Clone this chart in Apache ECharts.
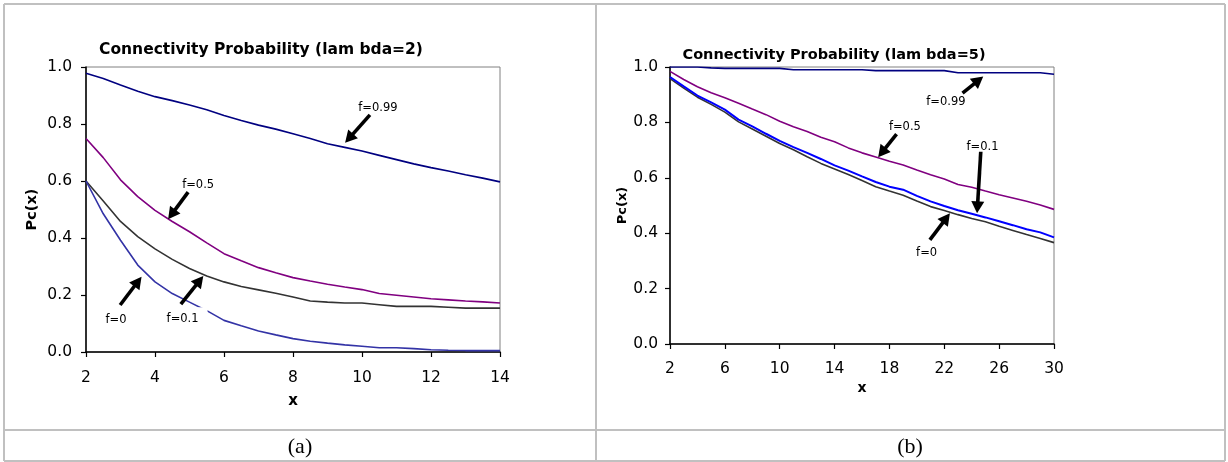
<!DOCTYPE html>
<html>
<head>
<meta charset="utf-8">
<script src="https://cdn.jsdelivr.net/npm/echarts@6/dist/echarts.min.js"></script>
<style>
html,body{margin:0;padding:0;background:#fff;}
#chart{width:1228px;height:462px;}
</style>
</head>
<body>
<div id="chart"></div>
<script>
// ---------- Panel (a): lambda = 2 ----------
const xA = [2,2.5,3,3.5,4,4.5,5,5.5,6,6.5,7,7.5,8,8.5,9,9.5,10,10.5,11,11.5,12,12.5,13,13.5,14];
const aF099 = [0.978,0.96,0.937,0.915,0.896,0.882,0.867,0.85,0.83,0.812,0.796,0.782,0.766,0.749,0.731,0.718,0.705,0.69,0.675,0.66,0.647,0.635,0.622,0.61,0.597];
const aF05  = [0.749,0.682,0.604,0.545,0.497,0.458,0.422,0.383,0.345,0.32,0.296,0.278,0.261,0.249,0.238,0.228,0.219,0.205,0.199,0.193,0.187,0.183,0.179,0.176,0.172];
const aF01  = [0.6,0.53,0.458,0.405,0.362,0.325,0.293,0.267,0.246,0.23,0.218,0.206,0.193,0.179,0.175,0.172,0.172,0.166,0.16,0.16,0.16,0.157,0.154,0.154,0.154];
const aF0   = [0.6,0.485,0.392,0.305,0.246,0.205,0.175,0.145,0.111,0.092,0.074,0.06,0.047,0.038,0.031,0.025,0.02,0.015,0.015,0.012,0.008,0.006,0.005,0.005,0.005];

// ---------- Panel (b): lambda = 5 ----------
const xB = [2,3,4,5,6,7,8,9,10,11,12,13,14,15,16,17,18,19,20,21,22,23,24,25,26,27,28,29,30];
const bF099 = [1.0,1.0,1.0,0.997,0.995,0.995,0.995,0.995,0.995,0.99,0.99,0.99,0.99,0.99,0.99,0.987,0.987,0.987,0.987,0.987,0.987,0.979,0.979,0.979,0.979,0.979,0.979,0.979,0.974];
const bF05  = [0.984,0.955,0.929,0.907,0.889,0.869,0.848,0.828,0.804,0.784,0.767,0.746,0.73,0.708,0.69,0.675,0.66,0.646,0.628,0.611,0.596,0.576,0.566,0.552,0.539,0.527,0.515,0.502,0.486];
const bF01  = [0.964,0.93,0.897,0.872,0.846,0.81,0.786,0.759,0.733,0.711,0.69,0.668,0.645,0.626,0.605,0.585,0.568,0.557,0.535,0.515,0.498,0.483,0.47,0.457,0.443,0.429,0.414,0.403,0.385];
const bF0   = [0.958,0.924,0.891,0.865,0.837,0.802,0.776,0.75,0.724,0.701,0.676,0.652,0.632,0.612,0.59,0.568,0.552,0.537,0.516,0.496,0.482,0.467,0.453,0.441,0.425,0.41,0.395,0.381,0.366];

// ---------- Tick labels ----------
const xTicksA = [2,4,6,8,10,12,14];
const xTicksB = [2,6,10,14,18,22,26,30];
const yTicks  = [0,0.2,0.4,0.6,0.8,1.0];

// ---------- Texts ----------
const titleA = 'Connectivity Probability (lam bda=2)';
const titleB = 'Connectivity Probability (lam bda=5)';
const captionA = '(a)';
const captionB = '(b)';

// ---------- Annotations (data units: label, tip, tail) ----------
const annotA = [
  {label:'f=0.99', at:[10.46,0.863], tail:[10.23,0.832], tip:[9.51,0.734]},
  {label:'f=0.5',  at:[5.25,0.593],  tail:[4.96,0.561],  tip:[4.38,0.466]},
  {label:'f=0',    at:[2.87,0.119],  tail:[2.99,0.165],  tip:[3.61,0.264]},
  {label:'f=0.1',  at:[4.8,0.124],   tail:[4.75,0.168],  tip:[5.4,0.267]}
];
const annotB = [
  {label:'f=0.99', at:[22.12,0.88],  tail:[23.33,0.906], tip:[24.84,0.966]},
  {label:'f=0.5',  at:[19.13,0.79],  tail:[18.52,0.758], tip:[17.18,0.674]},
  {label:'f=0.1',  at:[24.79,0.718], tail:[24.66,0.694], tip:[24.39,0.472]},
  {label:'f=0',    at:[20.71,0.334], tail:[20.95,0.376], tip:[22.41,0.472]}
];

const FONT = '"DejaVu Sans", "Liberation Sans", sans-serif';
const zip = (xs, ys) => xs.map((x, i) => [x, ys[i]]);

function xAxis(gridIndex, ticks, margin, nameGap, nameSize) {
  return {
    type: 'value', gridIndex, min: ticks[0], max: ticks[ticks.length - 1],
    name: 'x', nameLocation: 'middle', nameGap,
    nameTextStyle: {fontFamily: FONT, fontWeight: 'bold', fontSize: nameSize, color: '#000'},
    axisLine: {show: true, onZero: false, lineStyle: {color: '#000', width: 1.5}},
    axisTick: {show: true, inside: false, length: 5, customValues: ticks, lineStyle: {color: '#000', width: 1.2}},
    axisLabel: {customValues: ticks, margin, fontFamily: FONT, fontSize: 15.5, color: '#000'},
    splitLine: {show: false}
  };
}
function yAxis(gridIndex, margin, nameGap, nameSize) {
  return {
    type: 'value', gridIndex, min: 0, max: 1,
    name: 'Pc(x)', nameLocation: 'middle', nameGap, nameRotate: 90,
    nameTextStyle: {fontFamily: FONT, fontWeight: 'bold', fontSize: nameSize, color: '#000'},
    axisLine: {show: true, onZero: false, lineStyle: {color: '#000', width: 1.5}},
    axisTick: {show: true, inside: false, length: 5, customValues: yTicks, lineStyle: {color: '#000', width: 1.2}},
    axisLabel: {customValues: yTicks, margin, fontFamily: FONT, fontSize: 15.5, color: '#000',
      formatter: v => Number(v).toFixed(1)},
    splitLine: {show: false}
  };
}
function line(name, xi, yi, data, color, width) {
  return {
    name, type: 'line', xAxisIndex: xi, yAxisIndex: yi, data,
    showSymbol: false, symbol: 'none', smooth: false, animation: false,
    lineStyle: {color, width: width || 1.6}, itemStyle: {color}, z: 3
  };
}

const chart = echarts.init(document.getElementById('chart'), null, {renderer: 'canvas'});
chart.setOption({
  backgroundColor: '#fff',
  animation: false,
  grid: [
    {left: 86, top: 67, width: 414, height: 285, show: true, borderColor: '#808080', borderWidth: 1, backgroundColor: 'transparent'},
    {left: 670, top: 67, width: 384, height: 277, show: true, borderColor: '#808080', borderWidth: 1, backgroundColor: 'transparent'}
  ],
  xAxis: [xAxis(0, xTicksA, 18, 42, 15), xAxis(1, xTicksB, 16.5, 18, 14)],
  yAxis: [yAxis(0, 14, 46, 14.5), yAxis(1, 12, 40, 13)],
  series: [
    line('f=0.99', 0, 0, zip(xA, aF099), '#000080'),
    line('f=0.5',  0, 0, zip(xA, aF05),  '#800080'),
    line('f=0.1',  0, 0, zip(xA, aF01),  '#333333'),
    line('f=0',    0, 0, zip(xA, aF0),   '#3333a6'),
    line('f=0.99', 1, 1, zip(xB, bF099), '#000080'),
    line('f=0.5',  1, 1, zip(xB, bF05),  '#800080'),
    line('f=0',    1, 1, zip(xB, bF0),   '#333333'),
    line('f=0.1',  1, 1, zip(xB, bF01),  '#0000ff', 2)
  ]
});

// ---------- Decorations: table frame, titles, captions, annotations ----------
const border = {stroke: '#c0c0c0', lineWidth: 2};
const graphics = [
  {type: 'line', shape: {x1: 4, y1: 4, x2: 1225, y2: 4}, style: border, z: 1},
  {type: 'line', shape: {x1: 4, y1: 430, x2: 1225, y2: 430}, style: border, z: 1},
  {type: 'line', shape: {x1: 4, y1: 461, x2: 1225, y2: 461}, style: border, z: 1},
  {type: 'line', shape: {x1: 4, y1: 4, x2: 4, y2: 461}, style: border, z: 1},
  {type: 'line', shape: {x1: 596, y1: 4, x2: 596, y2: 461}, style: border, z: 1},
  {type: 'line', shape: {x1: 1225, y1: 4, x2: 1225, y2: 461}, style: border, z: 1},
  {type: 'text', x: 261, y: 50, z: 5, style: {text: titleA, fill: '#000', font: 'bold 15.5px ' + FONT, align: 'center', verticalAlign: 'middle'}},
  {type: 'text', x: 834, y: 55, z: 5, style: {text: titleB, fill: '#000', font: 'bold 14.5px ' + FONT, align: 'center', verticalAlign: 'middle'}},
  {type: 'text', x: 300, y: 447, z: 5, style: {text: captionA, fill: '#000', font: '22px "Liberation Serif", "DejaVu Serif", serif', align: 'center', verticalAlign: 'middle'}},
  {type: 'text', x: 910, y: 447, z: 5, style: {text: captionB, fill: '#000', font: '22px "Liberation Serif", "DejaVu Serif", serif', align: 'center', verticalAlign: 'middle'}}
];

function addArrows(list, gridIndex) {
  list.forEach(a => {
    const t = chart.convertToPixel({gridIndex}, a.at);
    const p0 = chart.convertToPixel({gridIndex}, a.tail);
    const p1 = chart.convertToPixel({gridIndex}, a.tip);
    graphics.push({type: 'text', x: t[0] + 3.5, y: t[1] + 2, z: 6,
      style: {text: a.label, fill: '#000', font: '11.5px ' + FONT, align: 'center', verticalAlign: 'middle',
        backgroundColor: '#fff', padding: [9, 9, 2, 2]}});
    const dx = p1[0] - p0[0], dy = p1[1] - p0[1];
    const len = Math.sqrt(dx * dx + dy * dy);
    const ux = dx / len, uy = dy / len;
    const L = 12, W = 6.5;
    const bx = p1[0] - ux * L, by = p1[1] - uy * L;
    graphics.push({type: 'line', z: 7,
      shape: {x1: p0[0], y1: p0[1], x2: bx + ux * 1, y2: by + uy * 1},
      style: {stroke: '#000', lineWidth: 3.6, lineCap: 'butt'}});
    graphics.push({type: 'polygon', z: 7,
      shape: {points: [[p1[0], p1[1]], [bx - uy * W, by + ux * W], [bx + uy * W, by - ux * W]]},
      style: {fill: '#000'}});
  });
}
addArrows(annotA, 0);
addArrows(annotB, 1);
chart.setOption({graphic: graphics});
</script>
</body>
</html>
